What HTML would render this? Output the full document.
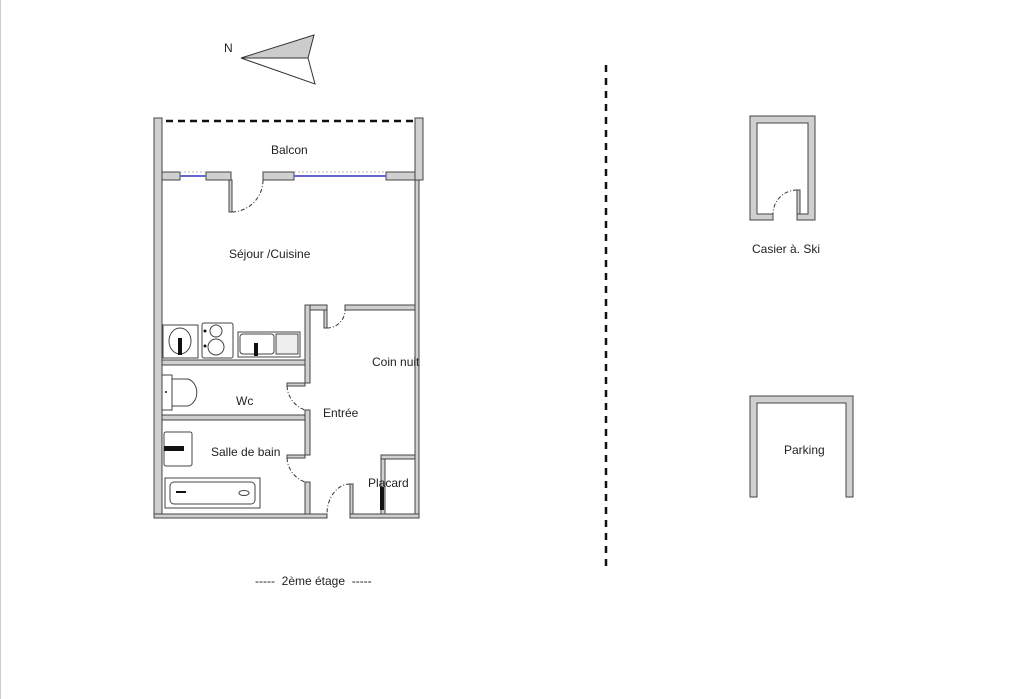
<!DOCTYPE html>
<html><head><meta charset="utf-8"><style>
html,body{margin:0;padding:0;background:#fff;}
svg{display:block;}
text{font-family:"Liberation Sans",sans-serif;font-size:12px;fill:#222;}
</style></head><body>
<svg width="1024" height="699" viewBox="0 0 1024 699" xmlns="http://www.w3.org/2000/svg">
<line x1="0.5" y1="0" x2="0.5" y2="699" stroke="#ccc"/>
<!-- compass -->
<text x="224" y="52" font-size="13">N</text>
<polygon points="241,58 314,35 308,58" fill="#ccc" stroke="#333" stroke-width="1"/>
<polygon points="241,58 308,58 315,84" fill="#fff" stroke="#333" stroke-width="1"/>

<g fill="#d0d0d0" stroke="#444" stroke-width="1">
<!-- outer walls -->
<rect x="154" y="118" width="8" height="400"/>
<rect x="415" y="118" width="8" height="62"/>
<rect x="415" y="180" width="4" height="334"/>
<rect x="154" y="514" width="173" height="4"/>
<rect x="350" y="514" width="69" height="4"/>
<!-- balcony wall -->
<rect x="162" y="172" width="18" height="8"/>
<rect x="206" y="172" width="25" height="8"/>
<rect x="263" y="172" width="31" height="8"/>
<rect x="386" y="172" width="29" height="8"/>
<!-- door leaves -->
<rect x="229" y="180" width="3" height="32"/>
<rect x="324" y="310" width="3" height="18"/>
<rect x="350" y="484" width="3" height="30"/>
<!-- inner walls -->
<rect x="305" y="305" width="22" height="5"/>
<rect x="345" y="305" width="70" height="5"/>
<rect x="305" y="305" width="5" height="78"/>
<rect x="305" y="410" width="5" height="45"/>
<rect x="305" y="482" width="5" height="32"/>
<rect x="162" y="360" width="143" height="5"/>
<rect x="162" y="415" width="143" height="5"/>
<rect x="287" y="383" width="18" height="3"/>
<rect x="287" y="455" width="18" height="3"/>
<rect x="381" y="455" width="34" height="4"/>
<rect x="381" y="459" width="4" height="55"/>
<!-- casier -->
<path d="M750,116 H815 V220 H797 V214 H808 V123 H757 V214 H773 V220 H750 Z"/>
<rect x="797" y="190" width="3" height="24"/>
<!-- parking -->
<path d="M750,396 H853 V497 H846 V403 H757 V497 H750 Z"/>
</g>
<!-- balcony dashed -->
<line x1="166" y1="121" x2="418" y2="121" stroke="#111" stroke-width="2.5" stroke-dasharray="7,5"/>
<!-- windows -->
<line x1="180" y1="176" x2="206" y2="176" stroke="#66c" stroke-width="2"/>
<line x1="294" y1="176" x2="386" y2="176" stroke="#66c" stroke-width="2"/>
<line x1="180" y1="172" x2="206" y2="172" stroke="#bbb" stroke-dasharray="2,2"/>
<line x1="294" y1="172" x2="386" y2="172" stroke="#bbb" stroke-dasharray="2,2"/>
<!-- door arcs -->
<g fill="none" stroke="#333" stroke-dasharray="4,2,1,2">
<path d="M232,212 A32,32 0 0 0 263,180"/>
<path d="M327,328 A18,18 0 0 0 345,310"/>
<path d="M287,386 A27,27 0 0 0 305,410"/>
<path d="M287,458 A27,27 0 0 0 305,482"/>
<path d="M350,484 A23,30 0 0 0 327,514"/>
<path d="M797,190 A24,24 0 0 0 773,214"/>
</g>
<!-- fixtures -->
<g fill="#fff" stroke="#444" stroke-width="1">
<rect x="163" y="325" width="35" height="33"/>
<ellipse cx="180" cy="341" rx="11" ry="13"/>
<rect x="202" y="323" width="31" height="35" rx="2"/>
<circle cx="216" cy="331" r="6"/><circle cx="216" cy="347" r="8"/>
<rect x="238" y="332" width="62" height="25"/>
<rect x="240" y="334" width="34" height="20" rx="3"/>
<rect x="276" y="334" width="22" height="20" fill="#eee"/>
<rect x="162" y="375" width="10" height="35"/>
<path d="M172,379 H188 A12,14 0 0 1 188,406 H172 Z"/>
<rect x="164" y="432" width="28" height="34" rx="2"/>
<rect x="165" y="478" width="95" height="30"/>
<rect x="170" y="482" width="85" height="22" rx="4"/>
<ellipse cx="244" cy="493" rx="5" ry="2.5"/>
</g>
<g fill="#111">
<rect x="178" y="338" width="4" height="17"/>
<rect x="254" y="343" width="4" height="13"/>
<circle cx="205" cy="331" r="1.5"/><circle cx="205" cy="346" r="1.5"/>
<circle cx="166" cy="392" r="1"/>
<rect x="164" y="446" width="20" height="5"/>
<rect x="176" y="491" width="10" height="2"/>
<rect x="380" y="487" width="4" height="23"/>
</g>
<!-- dashed separator -->
<line x1="606" y1="65" x2="606" y2="568" stroke="#111" stroke-width="2.5" stroke-dasharray="7,6"/>
<!-- labels -->
<text x="271" y="154">Balcon</text>
<text x="229" y="258">Séjour /Cuisine</text>
<text x="372" y="366">Coin nuit</text>
<text x="236" y="405">Wc</text>
<text x="323" y="417">Entrée</text>
<text x="211" y="456">Salle de bain</text>
<text x="368" y="487">Placard</text>
<text x="255" y="585" font-size="11" xml:space="preserve">-----  2ème étage  -----</text>
<text x="752" y="253">Casier à. Ski</text>
<text x="784" y="454">Parking</text>
</svg>
</body></html>
